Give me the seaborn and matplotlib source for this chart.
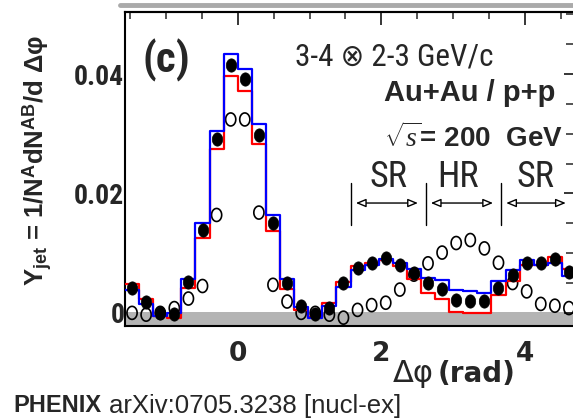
import numpy as np
import pandas as pd
import matplotlib
matplotlib.use("Agg")
import matplotlib.pyplot as plt
from matplotlib import font_manager
from matplotlib.font_manager import FontProperties
from matplotlib.lines import Line2D
from matplotlib.path import Path
import seaborn as sns

# --- data (32 bins of pi/16 from -pi/2 to 3pi/2) ---
n_bins = 32
y_auau = [0.0041, 0.0019, 0.0000, -0.0002, 0.0051, 0.0138, 0.0291, 0.0415,
          0.0391, 0.0298, 0.0151, 0.0050, 0.0012, -0.0002, 0.0008, 0.0050,
          0.0075, 0.0083, 0.0092, 0.0081, 0.0066, 0.0050, 0.0040, 0.0022,
          0.0020, 0.0020, 0.0041, 0.0063, 0.0083, 0.0083, 0.0090, 0.0069]
y_pp = [0.0000, -0.0003, 0.0000, 0.0008, 0.0024, 0.0045, 0.0164, 0.0324,
        0.0324, 0.0168, 0.0047, 0.0019, 0.0000, 0.0000, -0.0003, -0.0008,
        0.0005, 0.0013, 0.0017, 0.0039, 0.0064, 0.0083, 0.0101, 0.0117,
        0.0122, 0.0108, 0.0084, 0.0050, 0.0036, 0.0015, 0.0012, 0.0008]
sys_low = [0.0049, 0.0023, -0.0005, -0.0008, 0.0041, 0.0126, 0.0274, 0.0397,
           0.0372, 0.0283, 0.0137, 0.0040, 0.0005, -0.0007, 0.0017, 0.0052,
           0.0079, 0.0083, 0.0088, 0.0078, 0.0056, 0.0034, 0.0023, 0.0002,
           0.0000, 0.0000, 0.0030, 0.0054, 0.0080, 0.0080, 0.0093, 0.0073]
sys_high = [0.0039, 0.0015, -0.0005, 0.0000, 0.0056, 0.0150, 0.0305, 0.0434,
            0.0409, 0.0317, 0.0164, 0.0056, 0.0010, -0.0009, 0.0011, 0.0044,
            0.0072, 0.0080, 0.0090, 0.0083, 0.0073, 0.0058, 0.0055, 0.0039,
            0.0036, 0.0033, 0.0054, 0.0071, 0.0088, 0.0080, 0.0083, 0.0061]
auau_err = 0.0006

edges = np.linspace(-np.pi / 2, 3 * np.pi / 2, n_bins + 1)
centers = 0.5 * (edges[:-1] + edges[1:])

pts = pd.DataFrame({"dphi": centers, "auau": y_auau, "pp": y_pp})
steps = pd.DataFrame({"dphi": edges,
                      "low": sys_low + [sys_low[-1]],
                      "high": sys_high + [sys_high[-1]]})

# --- look for a condensed sans font (Helvetica-narrow look of the original) ---
ttf = font_manager.fontManager.ttflist
narrow_fam, narrow_stretch, scale = "Liberation Sans", "normal", 0.82
for fam in ["Liberation Sans Narrow", "Roboto Condensed", "Open Sans Condensed",
            "Noto Sans Condensed", "DejaVu Sans Condensed", "Noto Sans",
            "DejaVu Sans", "Roboto", "Open Sans", "Lato", "Inter"]:
    hits = [f for f in ttf if f.name == fam and
            ("condensed" in str(f.stretch) or "Narrow" in fam or "Condensed" in fam)]
    if hits:
        narrow_fam = fam
        narrow_stretch = hits[0].stretch
        scale = 1.0
        break


def nfont(size, weight="normal"):
    return FontProperties(family=[narrow_fam, "DejaVu Sans"], stretch=narrow_stretch,
                          weight=weight, size=size * scale)


sns.set_style("white")
plt.rcParams["font.family"] = ["Liberation Sans", "DejaVu Sans"]
plt.rcParams["mathtext.fontset"] = "custom"
plt.rcParams["mathtext.rm"] = "Liberation Sans:bold"
plt.rcParams["mathtext.bf"] = "Liberation Sans:bold"
plt.rcParams["mathtext.it"] = "Liberation Serif:italic"

W, H = 573, 418
fig = plt.figure(figsize=(W / 100, H / 100), dpi=100)


def fx(x):
    return x / W


def fy(y):
    return 1 - y / H


ax = fig.add_axes([fx(125), fy(326), fx(576) - fx(125), fy(12) - fy(326)])

x_lo, x_hi = -np.pi / 2, 3 * np.pi / 2
y_lo, y_hi = -0.0022, 0.0504
ax.set_xlim(x_lo, x_hi)
ax.set_ylim(y_lo, y_hi)

# slightly tall elliptical marker, like the stretched original
t = np.linspace(0, 2 * np.pi, 41)
ellipse = Path(np.column_stack([0.78 * np.cos(t), np.sin(t)]), closed=True)

# gray band around zero
ax.axhspan(y_lo, 0.0001, color="#b4b4b4", lw=0, zorder=0)

sns.scatterplot(data=pts, x="dphi", y="pp", ax=ax, marker=ellipse, s=88,
                facecolor="none", edgecolor="black", linewidth=1.2, zorder=2)
sns.lineplot(data=steps, x="dphi", y="low", ax=ax, color="#ff0000",
             drawstyle="steps-post", lw=1.6, estimator=None, zorder=3)
sns.lineplot(data=steps, x="dphi", y="high", ax=ax, color="#0000ff",
             drawstyle="steps-post", lw=1.6, estimator=None, zorder=4)
ax.errorbar(pts["dphi"], pts["auau"], yerr=auau_err, fmt="none",
            ecolor="black", elinewidth=2.2, capsize=0, zorder=5)
sns.scatterplot(data=pts, x="dphi", y="auau", ax=ax, marker=ellipse, s=92,
                color="black", edgecolor="black", linewidth=0.5, zorder=6)

ax.set_xlabel("")
ax.set_ylabel("")

# axes styling
for sp in ax.spines.values():
    sp.set_linewidth(1.5)
    sp.set_color("black")

ax.set_xticks([0, 2, 4], labels=["0", "2", "4"])
ax.set_xticks(np.arange(-1.5, 4.75, 0.5), minor=True)
ax.set_yticks([0, 0.02, 0.04], labels=["0", "0.02", "0.04"])
ax.set_yticks(np.arange(0, 0.0501, 0.005), minor=True)

ax.tick_params(axis="x", which="major", direction="out", length=7, width=1.3,
               pad=4, top=False)
ax.tick_params(axis="x", which="minor", direction="out", length=4, width=1.1, top=False)
ax.tick_params(axis="y", which="major", direction="in", length=9, width=1.3,
               pad=0.5, right=True)
ax.tick_params(axis="y", which="minor", direction="in", length=7, width=1.1, right=True)
for lab in ax.get_xticklabels():
    lab.set_fontfamily("DejaVu Sans")
    lab.set_fontweight("bold")
    lab.set_fontsize(19)
for lab in ax.get_yticklabels():
    lab.set_fontproperties(nfont(20, "bold"))

top = ax.secondary_xaxis("top")
top.set_xticks([0, 2, 4], labels=["", "", ""])
top.set_xticks(np.arange(-1.5, 4.75, 0.5), minor=True)
top.tick_params(which="major", direction="in", length=9, width=1.3)
top.tick_params(which="minor", direction="in", length=5, width=1.1)
top.spines["top"].set_linewidth(1.5)

# SR / HR markers
bar_x = [np.pi / 2, 5 * np.pi / 6, 7 * np.pi / 6]
for bx in bar_x:
    ax.plot([bx, bx], [0.0147, 0.0218], color="black", lw=1.0)
arrows = [(1.646, 2.51), (2.69, 3.556), (3.74, 4.57)]
for a, b in arrows:
    ax.annotate("", xy=(b, 0.0184), xytext=(a, 0.0184),
                arrowprops=dict(arrowstyle="<|-|>,head_length=0.6,head_width=0.25",
                                fc="white", ec="black", lw=1.0,
                                shrinkA=0, shrinkB=0))
for lab, cx in [("SR", 388), ("HR", 458), ("SR", 535)]:
    fig.text(fx(cx), fy(177), lab, fontproperties=nfont(26),
             ha="center", va="center")

# annotations
fig.text(fx(166), fy(60), "(c)", fontproperties=nfont(31, "bold"),
         ha="center", va="center")
fig.text(fx(295), fy(57), "3-4 \u2297 2-3 GeV/c", fontproperties=nfont(22.5),
         ha="left", va="center")
fig.text(fx(555), fy(93), "Au+Au / p+p", fontsize=21, fontweight="bold",
         ha="right", va="center")
fig.text(fx(563), fy(138), r"$\sqrt{s}$= 200  GeV", fontsize=20, fontweight="bold",
         ha="right", va="center")

fig.text(fx(37), fy(160),
         r"Y$_{\mathrm{jet}}$ = 1/N$^{\mathrm{A}}$dN$^{\mathrm{AB}}$/d Δφ",
         fontsize=18.5, fontweight="bold", rotation=90, ha="center", va="center")

fig.text(fx(393), fy(374), "Δφ", family="DejaVu Sans", fontsize=22,
         ha="left", va="center")
fig.text(fx(515), fy(374), "(rad)", family="DejaVu Sans", fontsize=20,
         fontweight="bold", ha="right", va="center")

fig.text(fx(13), fy(406), "PHENIX", fontsize=17, fontweight="bold",
         ha="left", va="center")
fig.text(fx(109), fy(406), "arXiv:0705.3238 [nucl-ex]", fontsize=18.5,
         ha="left", va="center")

# gray strip along the top edge
fig.add_artist(Line2D([fx(120), 1.0], [fy(5), fy(5)], color="#aaaaaa", lw=3.5))

fig.savefig("out.png", dpi=100)
